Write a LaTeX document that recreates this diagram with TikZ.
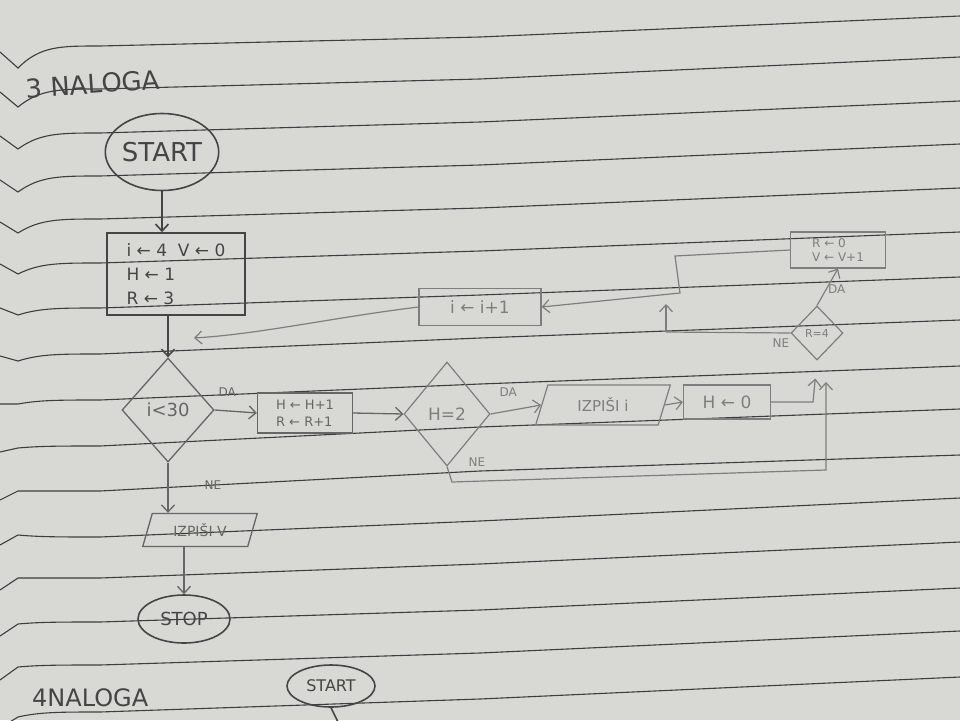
\documentclass[tikz,border=0pt]{standalone}
\usepackage{fontspec}
\setmainfont{DejaVu Sans}
\usetikzlibrary{shapes.geometric,arrows.meta}
\definecolor{paper}{HTML}{D8D8D5}
\definecolor{ruleline}{HTML}{3E3E3E}
\definecolor{pdark}{HTML}{454545}
\definecolor{pmid}{HTML}{666666}
\definecolor{plight}{HTML}{7E7E7E}
\newcommand{\fsz}[2]{\fontsize{#1}{#2}\selectfont}
\tikzset{
  ruled/.style={draw=ruleline, line width=1.1pt},
  pen/.style={draw=pmid, line width=1.3pt, text=pmid},
  pendark/.style={draw=pdark, line width=1.6pt, text=pdark},
  penlight/.style={draw=plight, line width=1.2pt, text=plight},
  boxx/.style={rectangle, inner sep=2pt, align=left},
  dia/.style={diamond, inner sep=0pt, aspect=1},
  io/.style={trapezium, trapezium left angle=70, trapezium right angle=110,
             trapezium stretches=true, inner sep=1pt},
  term/.style={ellipse, inner sep=0pt},
  arr/.style={-{Straight Barb[length=7pt,width=13pt]}},
  lbl/.style={inner sep=1pt, font=\fsz{12}{12}},
}
\begin{document}
\begin{tikzpicture}[x=1pt,y=-1pt]
\useasboundingbox (0,0) rectangle (960,720);
\clip (0,0) rectangle (960,720);
\fill[paper] (0,0) rectangle (960,720);
% ruled notebook lines
\foreach \a/\b/\c/\d/\e in {52/68/46/37/16, 92/107/89/79/57, 136/149/133/122/101,
  180/192/176/165/144, 222/233/219/208/188, 264/274/263/251/232, 308/315/308/295/277,
  356/361/354/338/320, 404/404/400/384/366, 452/448/446/427/409, 500/491/491/471/455,
  545/535/537/521/498, 590/578/578/564/542, 636/624/622/610/588, 680/667/665/653/631,
  728/717/712/699/677}
  \draw[ruled] (0,\a) -- (18,\b) .. controls (40,\c) and (60,\c) .. (100,\c) -- (480,\d) -- (960,\e);

% title
\node[text=pdark, font=\fsz{26}{26}, rotate=4] (title) at (93,84) {3 NALOGA};

% nodes
\node[pendark, term, minimum width=113pt, minimum height=77pt, font=\fsz{26}{26}] (start) at (162,152) {START};
\node[pendark, boxx, minimum width=138pt, minimum height=82pt, font=\fsz{17}{24}] (init) at (176,274)
  {i ← 4 \ V ← 0\\H ← 1\\R ← 3};
\node[pen, dia, minimum width=92pt, minimum height=104pt, font=\fsz{18}{18}] (d1) at (168,410) {i<30};
\node[pen, boxx, minimum width=95pt, minimum height=40pt, font=\fsz{13}{17}] (b2) at (305,413)
  {H ← H+1\\R ← R+1};
\node[penlight, dia, minimum width=86pt, minimum height=104pt, font=\fsz{17}{17}] (d2) at (447,414) {H=2};
\node[penlight, io, minimum width=135pt, minimum height=40pt, font=\fsz{15}{15}] (p1) at (603,405) {IZPIŠI i};
\node[penlight, boxx, minimum width=87pt, minimum height=34pt, font=\fsz{17}{17}] (b3) at (727,402) {H ← 0};
\node[penlight, dia, minimum width=52pt, minimum height=54pt, font=\fsz{11}{11}] (d3) at (817,333) {R=4};
\node[penlight, boxx, minimum width=95pt, minimum height=36pt, font=\fsz{12}{14}] (b4) at (838,250)
  {R ← 0\\V ← V+1};
\node[penlight, boxx, minimum width=122pt, minimum height=37pt, font=\fsz{17}{17}] (b5) at (480,307) {i ← i+1};
\node[pen, io, minimum width=115pt, minimum height=33pt, font=\fsz{14}{14}] (p2) at (200,530) {IZPIŠI V};
\node[pendark, term, minimum width=92pt, minimum height=48pt, font=\fsz{18}{18}] (stop) at (184,619) {STOP};

% bottom of page (next task)
\node[text=pdark, font=\fsz{24}{24}, anchor=north west, inner sep=0pt] (title2) at (32,688) {4NALOGA};
\node[pendark, term, minimum width=88pt, minimum height=42pt, font=\fsz{16}{16}] (start2) at (331,686) {START};
\coordinate (s2end) at (338,722);

% helper coordinates
\coordinate (back) at (194,338);
\coordinate (m1) at (813,402);
\coordinate (n1) at (452,482);
\coordinate (n2) at (826,470);
\coordinate (n3) at (826,382);
\coordinate (c1) at (675,256);
\coordinate (c2) at (680,293);
\coordinate (e1) at (666,332);
\coordinate (e2) at (666,304);

% connectors
\draw[pendark, arr] (start.south) -- (start.south |- init.north);
\draw[pendark, arr] (init.south -| d1.north) -- (d1.north);
\draw[penlight, arr] (b5.west) .. controls (330,318) and (260,334) .. (back);
\draw[pen, arr] (d1.east) -- node[lbl, above, pos=0.3, yshift=13pt, text=pmid] {DA} (b2.west);
\draw[pen, arr] (b2.east) -- (d2.west);
\draw[penlight, arr] (d2.east) -- node[lbl, above, pos=0.35, yshift=13pt, text=plight] {DA} (p1.west);
\draw[penlight, arr] (p1.east) -- (b3.west);
\draw[penlight, arr, shorten >=18pt] (b3.east) -- (m1) -- (d3.south);
\draw[penlight, arr] (d2.south) -- (n1) -- (n2) -- (n3);
\node[lbl, text=plight] (ne2) at (477,462) {NE};
\draw[penlight, arr] (d3.north) -- node[lbl, right, pos=0.45, text=plight] {DA} (b4.south);
\draw[penlight] (d3.west) -- (e1);
\draw[penlight, arr] (e1) -- (e2);
\node[lbl, text=plight] (ne3) at (781,343) {NE};
\draw[penlight, arr] (b4.west) -- (c1) -- (c2) -- (b5.east);
\draw[pen, arr] (d1.south) -- (p2.north -| d1.south);
\node[lbl, text=pmid] (ne1) at (213,485) {NE};
\draw[pen, arr] (p2.south -| stop.north) -- (stop.north);
\draw[pendark] (start2.south) -- (s2end);
\end{tikzpicture}
\end{document}
